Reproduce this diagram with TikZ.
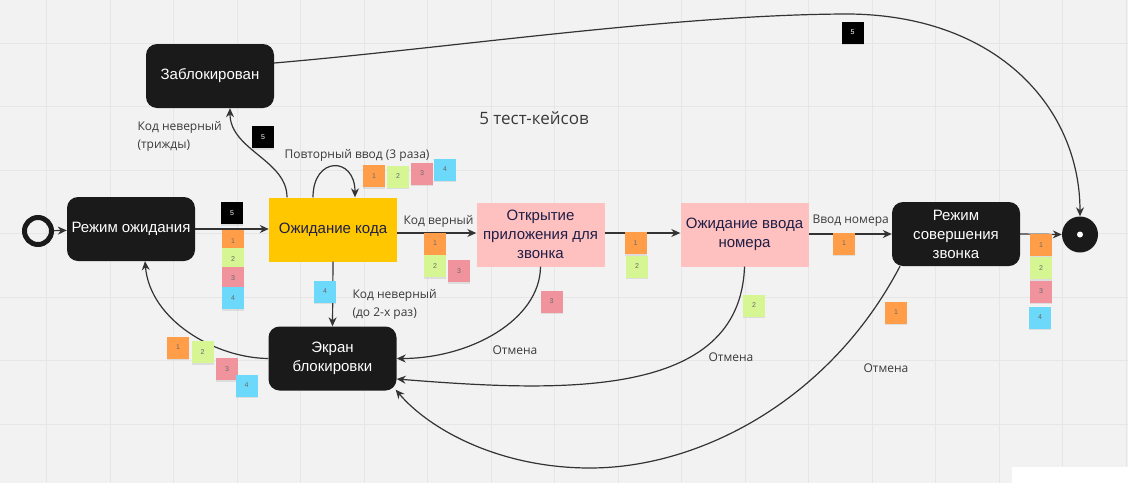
\documentclass[tikz,border=0pt]{standalone}
\usepackage{fontspec}
\setmainfont{Liberation Sans}
\newfontfamily\labelfont{Open Sans}
\usetikzlibrary{arrows.meta,shadows}

\definecolor{bgGray}{HTML}{F2F2F2}
\definecolor{gridGray}{HTML}{E6E6E6}
\definecolor{stateBlack}{HTML}{1A1A1A}
\definecolor{stateYellow}{HTML}{FFC700}
\definecolor{statePink}{HTML}{FFC0C0}
\definecolor{stateText}{HTML}{1E1E46}
\definecolor{edgeGray}{HTML}{333333}
\definecolor{labelGray}{HTML}{3A3A3A}
\definecolor{stickyText}{HTML}{6A6A6A}
\definecolor{stickyOrange}{HTML}{FF9D48}
\definecolor{stickyGreen}{HTML}{D5F692}
\definecolor{stickyPink}{HTML}{F0939D}
\definecolor{stickyBlue}{HTML}{6CD8FA}

\begin{document}
\begin{tikzpicture}[x=1pt, y=-1pt,
    state/.style={minimum width=128pt, minimum height=64pt, inner sep=2pt, align=center,
      font=\fontsize{15}{19}\selectfont},
    darkstate/.style={state, fill=stateBlack, text=white, rounded corners=11pt},
    codestate/.style={state, fill=stateYellow, text=stateText},
    pinkstate/.style={state, fill=statePink, text=stateText},
    arr/.style={draw=edgeGray, line width=1.2pt, -{Stealth[length=9pt,width=8pt]}},
    lbl/.style={font=\labelfont\fontsize{12}{18}\selectfont, text=labelGray, align=left},
    sticky/.style={minimum size=22pt, inner sep=0pt, font=\fontsize{7}{8}\selectfont, text=stickyText,
      drop shadow={shadow xshift=0pt, shadow yshift=-1.5pt, opacity=0.18}},
    st1/.style={sticky, fill=stickyOrange},
    st2/.style={sticky, fill=stickyGreen},
    st3/.style={sticky, fill=stickyPink},
    st4/.style={sticky, fill=stickyBlue},
    st5/.style={sticky, fill=black, text=white}]

    % --- Fondo con griglia ---
    \useasboundingbox (0,0) rectangle (1128,483);
    \fill[bgGray] (0,0) rectangle (1128,483);
    \foreach \gx in {46.5,110,...,1127} \draw[gridGray, line width=0.8pt] (\gx,0) -- (\gx,483);
    \foreach \gy in {43,106.5,...,470} \draw[gridGray, line width=0.8pt] (0,\gy) -- (1128,\gy);
    \fill[white] (1012,467) rectangle (1128,483);

    % --- Stati ---
    \node[circle, draw=stateBlack, line width=5pt, minimum size=27pt, inner sep=0pt] (start) at (38,231) {};
    \node[darkstate] (wait) at (131,229) {Режим ожидания};
    \node[codestate] (code) at (333,229.5) {Ожидание кода};
    \node[pinkstate] (openapp) at (540.5,234.5) {Открытие\\приложения для\\звонка};
    \node[pinkstate] (number) at (744.5,234.5) {Ожидание ввода\\номера};
    \node[darkstate] (call) at (956,234) {Режим\\совершения\\звонка};
    \node[circle, fill=stateBlack, minimum size=36pt, inner sep=0pt] (end) at (1080,234.5) {};
    \node[circle, fill=white, minimum size=6pt, inner sep=0pt] (enddot) at (end.center) {};
    \node[darkstate] (blocked) at (210,76) {Заблокирован};
    \node[darkstate] (screen) at (332.5,358.5) {Экран\\блокировки};

    % titolo
    \node[font=\labelfont\fontsize{17}{20}\selectfont, text=labelGray] (title) at (534,118) {5 тест-кейсов};

    % --- Transizioni ---
    \draw[arr] (start) -- (wait);
    \draw[arr] (wait) -- (code.west |- wait.east);
    \draw[arr] (code.east |- 0,233) -- (openapp.west |- 0,233);
    \draw[arr] (openapp.east |- 0,233) -- (number.west |- 0,233);
    \draw[arr] (number.east |- 0,234) -- (call.west |- 0,234);
    \draw[arr] (call.east |- 0,234) -- (end.west);
    \draw[arr] ([xshift=-46pt]code.north) .. controls (287,160) and (230,150) .. ([xshift=20pt]blocked.south);
    \draw[arr] ([xshift=-20pt]code.north) .. controls (313,156) and (355,156) .. ([xshift=22pt]code.north);
    \draw[arr] ([yshift=13pt]blocked.east) .. controls (450,48) and (680,14) .. (850,14)
      .. controls (1000,16) and (1080,110) .. (end.north);
    \draw[arr] (code.south) -- (screen.north);
    \draw[arr] (screen.west) .. controls (215,358) and (150,320) .. ([xshift=14pt]wait.south);
    \draw[arr] (openapp.south) .. controls (540,320) and (470,358.5) .. (screen.east);
    \draw[arr] (number.south) .. controls (740,400) and (560,392) .. ([yshift=-20.5pt]screen.east);
    \draw[arr] ([xshift=-56pt]call.south) .. controls (830,400) and (700,468) .. (590,468)
      .. controls (500,468) and (430,430) .. ([xshift=-1pt,yshift=1pt]screen.south east);

    % --- Etichette ---
    \node[lbl, anchor=west] (lblok) at (400,221) {Код верный};
    \node[lbl, anchor=west] (lblnum) at (809,221) {Ввод номера};
    \node[lbl, anchor=west] (lblthree) at (134,136) {Код неверный\\(трижды)};
    \node[lbl, anchor=west] (lblretry) at (281,155) {Повторный ввод (3 раза)};
    \node[lbl, anchor=west] (lbltwo) at (349,304) {Код неверный\\(до 2-х раз)};
    \node[lbl] (cancela) at (515,350) {Отмена};
    \node[lbl] (cancelb) at (731,357) {Отмена};
    \node[lbl] (cancelc) at (886,368) {Отмена};

    % --- Stickers dei test-case ---
    \node[st5] (wc5) at (232,213) {5};
    \node[st1] (wc1) at (233,241) {1};
    \node[st2] (wc2) at (233,259) {2};
    \node[st3] (wc3) at (233,278) {3};
    \node[st4] (wc4) at (233,298) {4};

    \node[st5] (cb5) at (263,137) {5};
    \node[st1] (cl1) at (374,176) {1};
    \node[st2] (cl2) at (398,176.5) {2};
    \node[st3] (cl3) at (422,173.5) {3};
    \node[st4] (cl4) at (445,169.5) {4};

    \node[st1] (co1) at (435,243.5) {1};
    \node[st2] (co2) at (435,266) {2};
    \node[st3] (co3) at (459,271) {3};

    \node[st1] (on1) at (635.5,243) {1};
    \node[st2] (on2) at (637,266.5) {2};
    \node[st1] (nc1) at (844,243.5) {1};

    \node[st1] (ce1) at (1041,245) {1};
    \node[st2] (ce2) at (1041,268) {2};
    \node[st3] (ce3) at (1041,291.5) {3};
    \node[st4] (ce4) at (1040,317.5) {4};
    \node[st5] (be5) at (852.5,32.5) {5};

    \node[st4] (cs4) at (325,291.5) {4};
    \node[st1] (sw1) at (178,347.5) {1};
    \node[st2] (sw2) at (202.5,352) {2};
    \node[st3] (sw3) at (227,369) {3};
    \node[st4] (sw4) at (246.5,385.5) {4};

    \node[st3] (os3) at (551.5,301.5) {3};
    \node[st2] (ns2) at (754,305.5) {2};
    \node[st1] (cx1) at (896,312.5) {1};

  \end{tikzpicture}
\end{document}
